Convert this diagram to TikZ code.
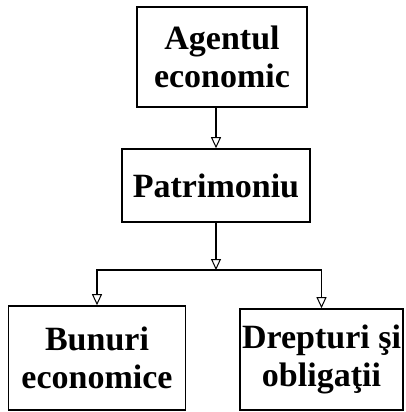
\documentclass[tikz,border=0pt]{standalone}
\usepackage{fontspec}
\setmainfont{Liberation Serif}
\usetikzlibrary{arrows.meta}
\begin{document}
\begin{tikzpicture}[x=1pt, y=-1pt,
    box/.style={draw, line width=1.6pt, align=center, inner sep=2pt,
        font=\bfseries\fontsize{34}{38}\selectfont},
    link/.style={line width=1.4pt, -{Triangle[open, length=11pt, width=10pt, line width=1pt]}}]
    \useasboundingbox (0,0) rectangle (406,412);

    \node[box, minimum width=170pt, minimum height=100pt] (agent) at (222,57) {Agentul\\economic};
    \node[box, minimum width=188pt, minimum height=73pt] (pat) at (216,185.5) {Patrimoniu};
    \node[box, minimum width=177pt, minimum height=104pt] (bun) at (97,358) {Bunuri\\economice};
    \node[box, minimum width=163pt, minimum height=101pt] (drept) at (321.5,359.5) {Drepturi şi\\obligaţii};
    \coordinate (split) at (pat.south |- 0,270);

    \draw[link] (agent.south -| pat.north) -- (pat.north);
    \draw[link] (pat.south) -- (split);
    \foreach \goal in {bun,drept}
        \draw[link] (split) -| (\goal.north);
\end{tikzpicture}
\end{document}
